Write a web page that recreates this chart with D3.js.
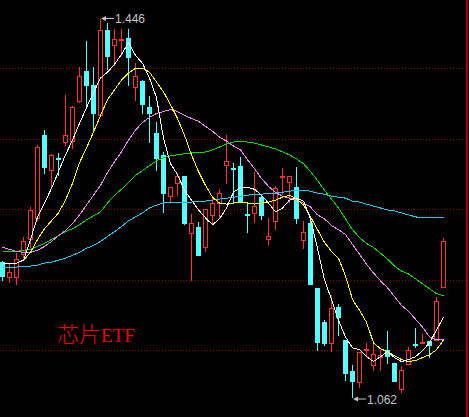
<!DOCTYPE html>
<html>
<head>
<meta charset="utf-8">
<script src="https://cdn.jsdelivr.net/npm/d3@7"></script>
<style>
  html, body { margin: 0; padding: 0; background: #000; overflow: hidden; }
  svg { display: block; }
</style>
</head>
<body>
<div class="chart"></div>
<script>
// daily candles
var opens = [1.199,1.184,1.184,1.207,1.223,1.244,1.328,1.293,1.305,1.321,
  1.322,1.363,1.393,1.379,1.348,1.435,1.420,1.425,1.427,1.377,
  1.383,1.357,1.330,1.308,1.266,1.279,1.286,1.229,1.235,1.214,
  1.247,1.259,1.298,1.295,1.297,1.248,1.249,1.265,1.223,1.241,
  1.285,1.280,1.275,1.221,1.239,1.173,1.138,1.117,1.153,1.120,
  1.088,1.077,1.110,1.094,1.103,1.110,1.097,1.070,1.096,1.116,
  1.117,1.119,1.120,1.174];
var highs = [1.200,1.198,1.208,1.225,1.255,1.318,1.333,1.309,1.310,1.369,
  1.358,1.397,1.424,1.397,1.446,1.442,1.436,1.436,1.436,1.401,
  1.384,1.368,1.341,1.311,1.275,1.290,1.287,1.248,1.240,1.253,
  1.264,1.273,1.328,1.300,1.306,1.260,1.291,1.267,1.244,1.276,
  1.295,1.286,1.296,1.241,1.242,1.173,1.140,1.166,1.156,1.120,
  1.095,1.108,1.117,1.117,1.110,1.129,1.097,1.093,1.113,1.132,
  1.126,1.119,1.164,1.224];
var lows = [1.181,1.179,1.177,1.204,1.214,1.242,1.290,1.275,1.288,1.318,
  1.315,1.362,1.359,1.333,1.347,1.395,1.399,1.409,1.379,1.364,
  1.351,1.321,1.293,1.250,1.261,1.267,1.238,1.181,1.206,1.210,
  1.239,1.244,1.279,1.260,1.261,1.230,1.240,1.243,1.217,1.233,
  1.268,1.260,1.239,1.213,1.177,1.110,1.115,1.109,1.125,1.079,
  1.062,1.072,1.104,1.089,1.089,1.097,1.078,1.067,1.096,1.113,
  1.117,1.103,1.120,1.174];
var closes = [1.185,1.189,1.202,1.220,1.252,1.316,1.296,1.308,1.304,1.328,
  1.357,1.388,1.379,1.351,1.435,1.408,1.426,1.426,1.407,1.388,
  1.360,1.351,1.305,1.269,1.275,1.287,1.239,1.239,1.206,1.253,
  1.259,1.269,1.302,1.294,1.261,1.247,1.256,1.247,1.226,1.274,
  1.286,1.286,1.244,1.230,1.177,1.118,1.117,1.152,1.143,1.086,
  1.078,1.108,1.111,1.106,1.105,1.104,1.078,1.089,1.110,1.115,
  1.118,1.115,1.160,1.220];

// moving averages (white, yellow, violet, green, blue)
var ma5 = [1.198,1.198,1.198,1.201,1.222,1.245,1.259,1.274,1.291,1.308,
  1.323,1.340,1.356,1.371,1.386,1.392,1.400,1.410,1.422,1.409,
  1.401,1.386,1.366,1.325,1.299,1.288,1.272,1.262,1.252,1.244,
  1.237,1.243,1.254,1.270,1.275,1.275,1.273,1.267,1.259,1.250,
  1.254,1.262,1.264,1.261,1.243,1.213,1.181,1.161,1.140,1.123,
  1.112,1.110,1.103,1.098,1.103,1.108,1.102,1.098,1.100,1.103,
  1.109,1.117,1.130,1.143];
var ma10 = [1.198,1.198,1.198,1.201,1.209,1.222,1.233,1.241,1.249,1.262,
  1.279,1.300,1.315,1.331,1.348,1.364,1.374,1.384,1.391,1.396,
  1.396,1.392,1.382,1.372,1.359,1.345,1.328,1.308,1.291,1.277,
  1.265,1.259,1.258,1.259,1.260,1.259,1.258,1.259,1.260,1.262,
  1.265,1.267,1.263,1.257,1.245,1.232,1.219,1.210,1.203,1.185,
  1.161,1.150,1.138,1.117,1.111,1.108,1.104,1.100,1.098,1.099,
  1.102,1.105,1.110,1.120];
var ma20 = [1.214,1.212,1.210,1.209,1.209,1.211,1.215,1.220,1.226,1.231,
  1.238,1.247,1.257,1.267,1.277,1.290,1.301,1.311,1.323,1.333,
  1.341,1.346,1.350,1.352,1.354,1.352,1.348,1.345,1.342,1.337,
  1.332,1.326,1.322,1.317,1.313,1.303,1.294,1.284,1.276,1.270,
  1.266,1.264,1.262,1.259,1.255,1.247,1.243,1.236,1.232,1.227,
  1.217,1.207,1.197,1.188,1.180,1.173,1.164,1.155,1.149,1.141,
  1.133,1.123,1.120,1.120];
var ma30 = [1.210,1.210,1.210,1.211,1.212,1.215,1.218,1.222,1.226,1.230,
  1.233,1.237,1.242,1.246,1.250,1.259,1.267,1.273,1.280,1.287,
  1.292,1.297,1.302,1.305,1.307,1.308,1.309,1.310,1.310,1.311,
  1.313,1.316,1.319,1.321,1.322,1.321,1.320,1.318,1.316,1.314,
  1.311,1.308,1.304,1.299,1.291,1.282,1.272,1.263,1.254,1.243,
  1.232,1.224,1.218,1.214,1.208,1.202,1.195,1.190,1.187,1.182,
  1.177,1.172,1.167,1.165];
var ma60 = [1.193,1.194,1.194,1.195,1.195,1.196,1.198,1.199,1.201,1.203,
  1.206,1.209,1.213,1.216,1.220,1.225,1.230,1.235,1.241,1.245,
  1.249,1.254,1.257,1.259,1.260,1.260,1.260,1.260,1.261,1.261,
  1.262,1.263,1.264,1.265,1.266,1.267,1.268,1.268,1.269,1.269,
  1.270,1.271,1.272,1.272,1.271,1.269,1.268,1.266,1.265,1.264,
  1.261,1.260,1.258,1.256,1.254,1.252,1.251,1.249,1.247,1.245,
  1.244,1.244,1.244,1.244];

var gridValues = [1.396, 1.324, 1.253, 1.181, 1.110];
var titleCn = '芯片';
var titleEn = 'ETF';

var width = 469;
var height = 417;

var upColor = '#ff3232';
var downColor = '#54ffff';
var labelColor = '#c0c4c8';

var svg = d3.select('.chart')
  .append('svg')
    .attr('width', width)
    .attr('height', height)
    .style('background', '#000');

var xScale = d3.scaleLinear()
  .domain([0, closes.length - 1])
  .range([2.5, 443.5]);

var yScale = d3.scaleLinear()
  .domain([d3.min(lows), d3.max(highs)])
  .range([397, 19]);

var py = v => Math.round(yScale(v));

// dotted grid + right frame
svg.append('g')
  .selectAll('line')
  .data(gridValues)
  .enter()
  .append('line')
    .attr('x1', 0)
    .attr('x2', 466)
    .attr('y1', d => py(d) + 0.5)
    .attr('y2', d => py(d) + 0.5)
    .attr('stroke', '#8c0000')
    .attr('stroke-dasharray', '1,2');

svg.append('rect')
  .attr('x', 466)
  .attr('y', 0)
  .attr('width', 2)
  .attr('height', height)
  .attr('fill', '#a80000');

var candles = closes.map((c, i) => ({
  i: i, o: opens[i], h: highs[i], l: lows[i], c: c,
  up: c >= opens[i]
}));

var cg = svg.append('g')
  .attr('shape-rendering', 'crispEdges');

var candle = cg.selectAll('g')
  .data(candles)
  .enter()
  .append('g')
    .attr('stroke', d => d.up ? upColor : downColor);

// upper and lower shadows
candle.append('line')
  .attr('x1', d => Math.floor(xScale(d.i)) + 0.5)
  .attr('x2', d => Math.floor(xScale(d.i)) + 0.5)
  .attr('y1', d => py(d.h))
  .attr('y2', d => py(Math.max(d.o, d.c)) + 1);

candle.append('line')
  .attr('x1', d => Math.floor(xScale(d.i)) + 0.5)
  .attr('x2', d => Math.floor(xScale(d.i)) + 0.5)
  .attr('y1', d => py(Math.min(d.o, d.c)))
  .attr('y2', d => py(d.l) + 1);

// bodies
candle.each(function(d) {
  var g = d3.select(this);
  var left = Math.floor(xScale(d.i)) - 2;
  var top = py(Math.max(d.o, d.c));
  var bot = py(Math.min(d.o, d.c));
  if (bot - top < 1) {
    g.append('line')
      .attr('x1', left)
      .attr('x2', left + 5)
      .attr('y1', top + 0.5)
      .attr('y2', top + 0.5);
  } else if (d.up) {
    g.append('rect')
      .attr('x', left + 0.5)
      .attr('y', top + 0.5)
      .attr('width', 4)
      .attr('height', bot - top)
      .attr('fill', '#000');
  } else {
    g.append('rect')
      .attr('x', left)
      .attr('y', top)
      .attr('width', 5)
      .attr('height', bot - top + 1)
      .attr('fill', downColor)
      .attr('stroke', 'none');
  }
});

// moving average lines
var line = d3.line()
  .x((d, i) => xScale(i))
  .y(d => yScale(d));

var averages = [
  {values: ma60, color: '#1ec8f0'},
  {values: ma30, color: '#00dc00'},
  {values: ma20, color: '#f08cf0'},
  {values: ma10, color: '#ffff00'},
  {values: ma5, color: '#ffffff'}
];

svg.append('g')
  .attr('shape-rendering', 'crispEdges')
  .selectAll('path')
  .data(averages)
  .enter()
  .append('path')
    .attr('d', d => line(d.values))
    .attr('fill', 'none')
    .attr('stroke', d => d.color)
    .attr('stroke-width', 1);

// max / min markers
function marker(idx, value, dy) {
  var x0 = Math.floor(xScale(idx)) + 1;
  var y0 = py(value) + dy;
  var m = svg.append('g');
  m.append('line')
    .attr('x1', x0 + 3)
    .attr('x2', x0 + 13)
    .attr('y1', y0)
    .attr('y2', y0)
    .attr('stroke', labelColor);
  m.append('path')
    .attr('d', `M${x0},${y0}L${x0 + 5},${y0 - 2.5}L${x0 + 5},${y0 + 2.5}Z`)
    .attr('fill', labelColor);
  m.append('text')
    .attr('x', x0 + 14)
    .attr('y', y0 + 4.5)
    .attr('fill', labelColor)
    .style('font-family', 'Liberation Sans, Arial, sans-serif')
    .style('font-size', '12px')
    .text(d3.format('.3f')(value));
}

var hiIdx = d3.maxIndex(highs);
var loIdx = d3.minIndex(lows);
marker(hiIdx, highs[hiIdx], -0.5);
marker(loIdx, lows[loIdx], 2);

// title
var title = svg.append('text')
  .attr('x', 57)
  .attr('y', 342)
  .attr('fill', '#f00000');

title.append('tspan')
  .style('font-family', '"Noto Sans CJK SC", sans-serif')
  .style('font-size', '22px')
  .style('font-weight', 300)
  .text(titleCn);

title.append('tspan')
  .style('font-family', '"Liberation Serif", serif')
  .style('font-size', '19px')
  .text(titleEn);
</script>
</body>
</html>
